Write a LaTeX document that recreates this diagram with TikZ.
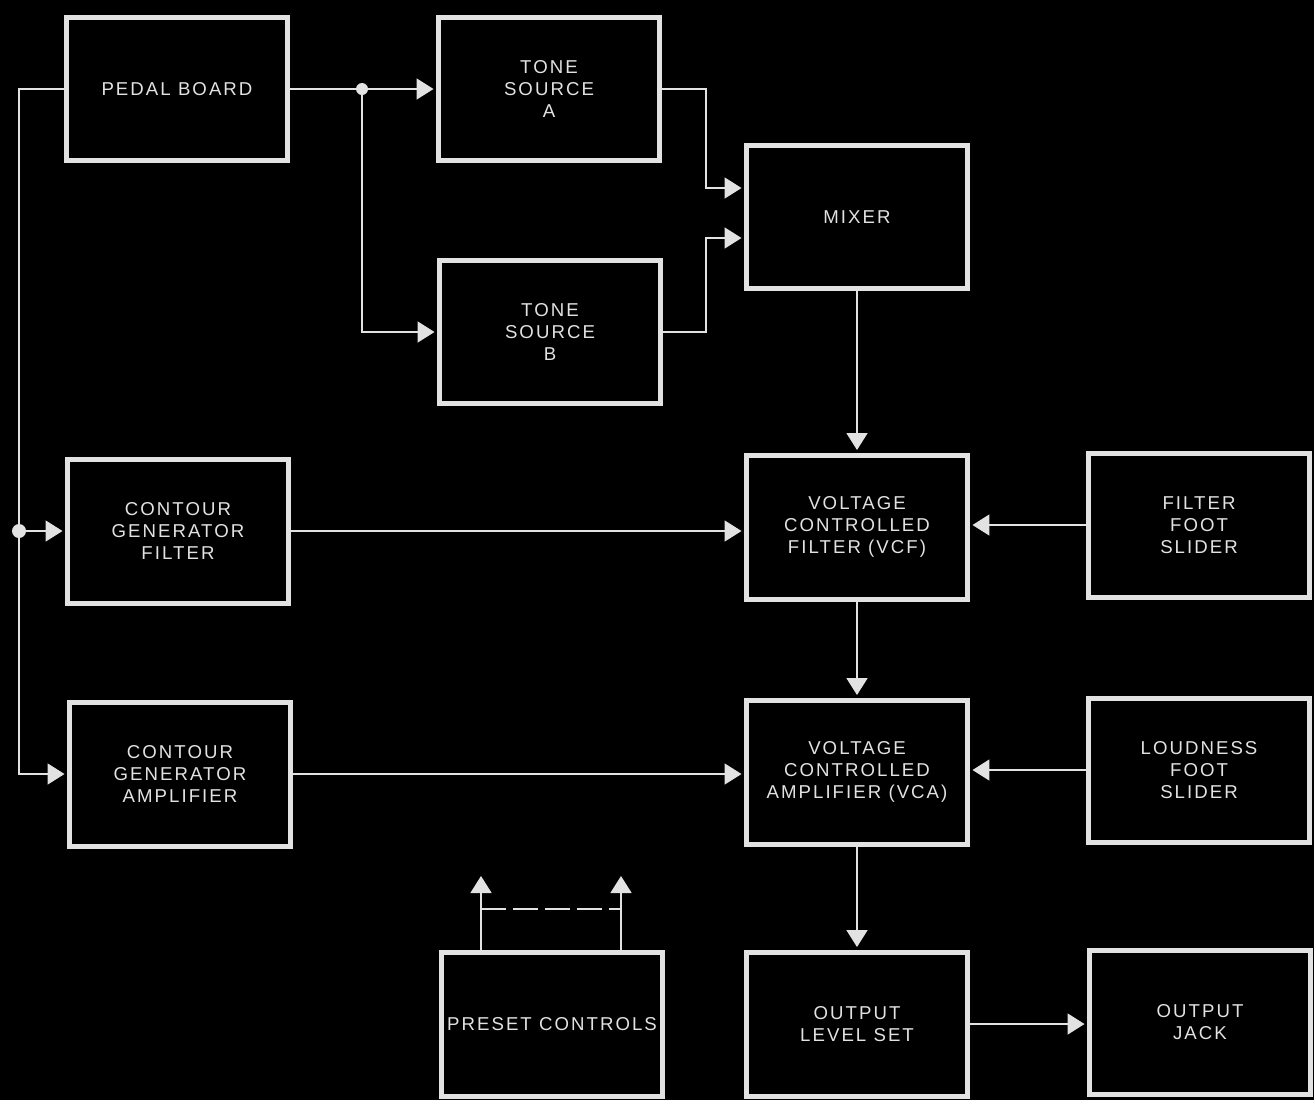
\documentclass[tikz,border=0pt]{standalone}
\usepackage{fontspec}
\newfontfamily\blockfont[LetterSpace=11]{Liberation Sans}
\usetikzlibrary{arrows.meta}
\definecolor{ink}{HTML}{E2E2E2}

\begin{document}
\begin{tikzpicture}[x=0.02cm, y=-0.02cm, >={Triangle[length=0.34cm,width=0.42cm]},
    block/.style={rectangle, draw=ink, line width=0.1cm, minimum width=4.42cm, minimum height=2.88cm, inner xsep=1pt, align=center, text=ink, font=\blockfont\fontsize{10.6}{12.4}\selectfont},
    wire/.style={draw=ink, line width=0.035cm},
    arr/.style={wire, ->, shorten >=0.05cm},
    dot/.style={circle, fill=ink, inner sep=0pt, minimum size=#1},
    dot/.default=0.24cm]
        \useasboundingbox (0,0) rectangle (1314,1100);
        \fill[black] (0,0) rectangle (1314,1100);

          % first column
          \node[block] (pedal) at (177,89) {PEDAL BOARD};
          \node[block] (cgf) at (178,531) {CONTOUR\\GENERATOR\\FILTER};
          \node[block] (cga) at (180,774) {CONTOUR\\GENERATOR\\AMPLIFIER};
          % second column
          \node[block] (toneA) at (549,89) {TONE\\SOURCE\\A};
          \node[block] (toneB) at (550,332) {TONE\\SOURCE\\B};
          \node[block] (preset) at (552,1024) {PRESET CONTROLS};
          % third column
          \node[block] (mixer) at (857,217) {MIXER};
          \node[block] (vcf) at (857,527) {VOLTAGE\\CONTROLLED\\FILTER (VCF)};
          \node[block] (vca) at (857,772) {VOLTAGE\\CONTROLLED\\AMPLIFIER (VCA)};
          \node[block] (level) at (857,1024) {OUTPUT\\LEVEL SET};
          % fourth column
          \node[block] (ffs) at (1199,525) {FILTER\\FOOT\\SLIDER};
          \node[block] (loud) at (1199,770) {LOUDNESS\\FOOT\\SLIDER};
          \node[block] (jack) at (1200,1022) {OUTPUT\\JACK};

          % pedal board to the tone sources
          \node[dot] (split) at (362,89) {};
          \draw[wire] (pedal.east) -- (split);
          \draw[arr] (split) -- (toneA.west);
          \draw[arr] (split) |- (toneB.west);
          \draw[arr] (toneA.east) -- ++(44,0) |- ([yshift=0.58cm]mixer.west);
          \draw[arr] (toneB.east) -- ++(43,0) |- ([yshift=-0.42cm]mixer.west);

          % pedal board to the contour generators
          \draw[arr] (pedal.west) -- ++(-45,0) coordinate (busTop) |- (cga.west);
          \node[dot=0.28cm] (busDot) at (busTop |- cgf.west) {};
          \draw[arr] (busDot) -- (cgf.west);

          % signal chain
          \draw[arr] (mixer) -- (vcf);
          \draw[arr] (vcf) -- (vca);
          \draw[arr] (vca) -- (level);
          \draw[arr] (level.east) -- (level.east -| jack.west);
          \draw[arr] (cgf.east) -- (cgf.east -| vcf.west);
          \draw[arr] (cga.east) -- (cga.east -| vca.west);
          \draw[arr] (ffs.west) -- (ffs.west -| vcf.east);
          \draw[arr] (loud.west) -- (loud.west -| vca.east);

          % preset outputs
          \coordinate (tipL) at (481,876);
          \coordinate (tipR) at (621,876);
          \draw[arr, shorten >=0pt] (tipL |- preset.north) -- (tipL);
          \draw[arr, shorten >=0pt] (tipR |- preset.north) -- (tipR);
          \draw[wire, dash pattern=on 0.5cm off 0.14cm] ([yshift=-0.66cm]tipL) -- ([yshift=-0.66cm]tipR);

        \end{tikzpicture}
\end{document}
